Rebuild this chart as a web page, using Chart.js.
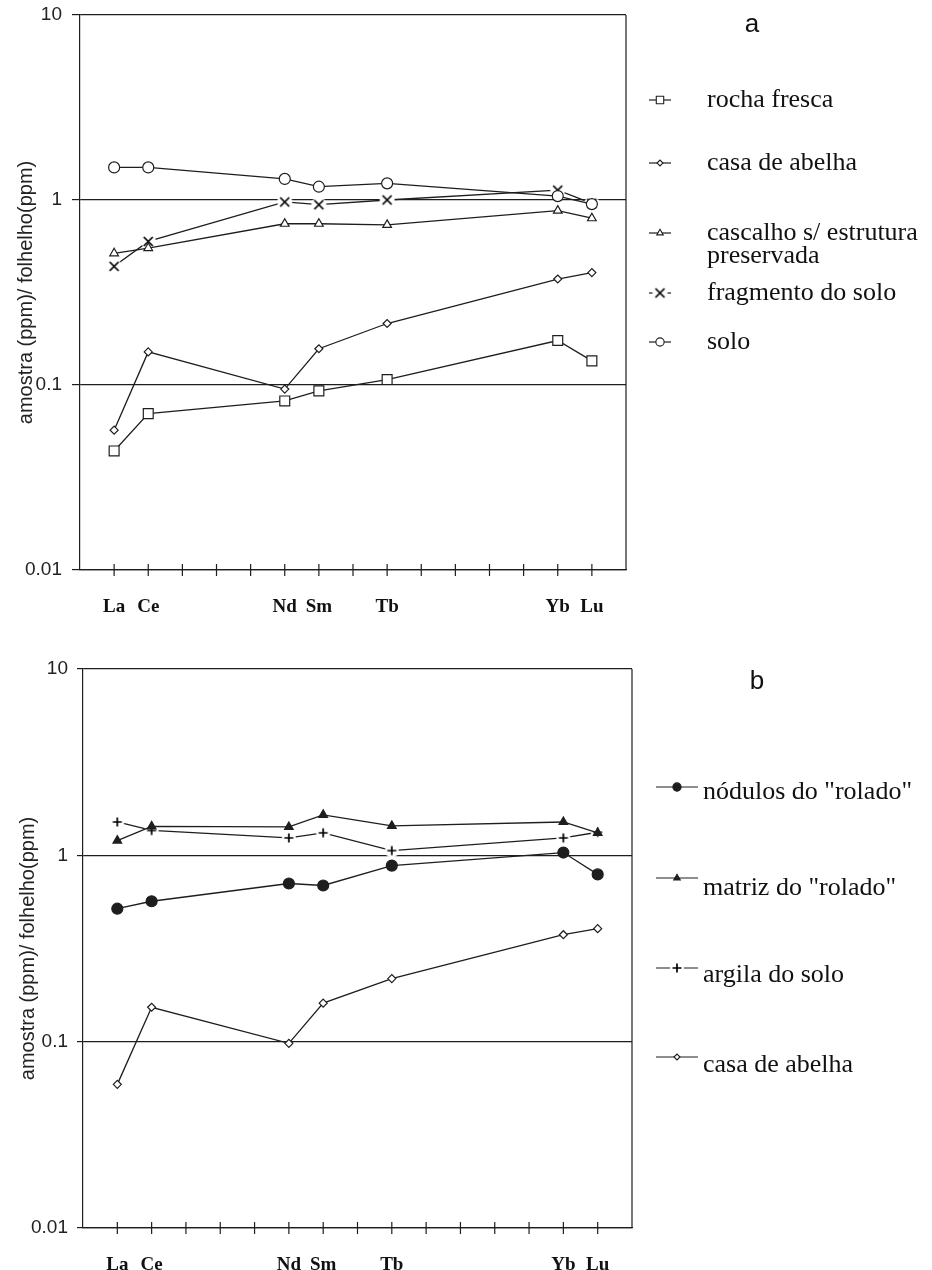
<!DOCTYPE html>
<html>
<head>
<meta charset="utf-8">
<script src="https://cdn.jsdelivr.net/npm/chart.js@4.4.1/dist/chart.umd.min.js"></script>
<style>
  html, body { margin: 0; padding: 0; background: #fff; overflow: hidden; }
  .panel { position: absolute; left: 0; width: 932px; }
</style>
</head>
<body>
<div class="panel" style="top:-10px;height:645px"><canvas id="chartA" width="932" height="645"></canvas></div>
<div class="panel" style="top:635px;height:635px"><canvas id="chartB" width="932" height="635"></canvas></div>
<script>
// x axis positions (blank = unlabelled tick) and the elements that were measured
var elements = ['La', 'Ce', '', '', '', 'Nd', 'Sm', '', 'Tb', '', '', '', '', 'Yb', 'Lu'];
var measured = ['La', 'Ce', 'Nd', 'Sm', 'Tb', 'Yb', 'Lu'];
var yTicks = [0.01, 0.1, 1, 10];
var yTickLabels = ['0.01', '0.1', '1', '10'];
var yTitle = 'amostra (ppm)/ folhelho(ppm)';

// panel a
var namesA = ['rocha fresca', 'casa de abelha', 'cascalho s/ estrutura\npreservada', 'fragmento do solo', 'solo'];
var rochaFresca = [0.044, 0.070, 0.082, 0.093, 0.107, 0.174, 0.135];
var casaAbelhaA = [0.057, 0.151, 0.095, 0.157, 0.215, 0.374, 0.405];
var cascalho    = [0.515, 0.55, 0.744, 0.744, 0.734, 0.876, 0.797];
var fragmento   = [0.438, 0.597, 0.976, 0.943, 1.0, 1.13, 0.96];
var solo        = [1.50, 1.50, 1.30, 1.18, 1.23, 1.05, 0.95];

// panel b
var namesB = ['nódulos do "rolado"', 'matriz do "rolado"', 'argila do solo', 'casa de abelha'];
var nodulos     = [0.517, 0.567, 0.706, 0.689, 0.881, 1.035, 0.79];
var matriz      = [1.20, 1.43, 1.42, 1.65, 1.44, 1.51, 1.32];
var argila      = [1.51, 1.36, 1.24, 1.32, 1.06, 1.24, 1.33];
var casaAbelhaB = [0.059, 0.153, 0.098, 0.161, 0.218, 0.375, 0.404];

var INK = '#1e1e1e';
Chart.defaults.font.family = '"Liberation Sans", Arial, sans-serif';
Chart.defaults.color = INK;

// marker with a white halo so the line breaks around it
function haloMarker(kind, r, halo) {
  var c = document.createElement('canvas');
  var s = Math.ceil(halo * 2) + 2;
  c.width = c.height = s;
  var g = c.getContext('2d'), m = s / 2;
  g.fillStyle = '#fff';
  g.beginPath(); g.arc(m, m, halo, 0, Math.PI * 2); g.fill();
  g.strokeStyle = '#000'; g.lineWidth = 1.7;
  g.beginPath();
  if (kind === 'x') {
    g.moveTo(m - r, m - r); g.lineTo(m + r, m + r);
    g.moveTo(m + r, m - r); g.lineTo(m - r, m + r);
  } else {
    g.moveTo(m - r, m); g.lineTo(m + r, m);
    g.moveTo(m, m - r); g.lineTo(m, m + r);
  }
  g.stroke();
  return c;
}

function toPoints(vals) {
  return measured.map(function (el, i) { return { x: el, y: vals[i] }; });
}

function series(label, vals, style, radius, fill, order) {
  return {
    label: label,
    data: toPoints(vals),
    borderColor: INK,
    borderWidth: 1.3,
    pointStyle: style,
    pointRadius: radius,
    pointBackgroundColor: fill,
    pointBorderColor: INK,
    pointBorderWidth: 1.2,
    order: order || 0,
    tension: 0
  };
}

var decor = {
  id: 'decor',
  afterDraw: function (chart, args, opts) {
    var ctx = chart.ctx, a = chart.chartArea, xs = chart.scales.x;
    ctx.save();
    ctx.strokeStyle = INK; ctx.lineWidth = 1.2;
    ctx.beginPath();
    ctx.moveTo(a.right, a.top); ctx.lineTo(a.right, a.bottom);
    for (var i = 1; i <= elements.length; i++) {
      var px = xs.getPixelForTick(i);
      ctx.moveTo(px, a.bottom - 6); ctx.lineTo(px, a.bottom + 6);
    }
    ctx.stroke();

    ctx.fillStyle = '#111';
    ctx.font = '26px "Liberation Sans", Arial, sans-serif';
    ctx.textAlign = 'center'; ctx.textBaseline = 'middle';
    ctx.fillText(opts.letter, opts.letterX, opts.letterY);

    ctx.textAlign = 'left';
    chart.data.datasets.forEach(function (ds, k) {
      var it = opts.items[k];
      ctx.strokeStyle = INK; ctx.lineWidth = 1.2;
      ctx.beginPath(); ctx.moveTo(opts.x0, it.sy); ctx.lineTo(opts.x1, it.sy); ctx.stroke();
      ctx.fillStyle = ds.pointBackgroundColor;
      ctx.strokeStyle = INK; ctx.lineWidth = 1.1;
      if (Chart.helpers && Chart.helpers.drawPoint) {
        Chart.helpers.drawPoint(ctx, { pointStyle: ds.pointStyle, radius: ds.pointRadius * 0.75, rotation: 0, borderWidth: 1.1 },
          opts.xm, it.sy);
      }
      ctx.fillStyle = '#111';
      ctx.font = '26px "Liberation Serif", "Times New Roman", serif';
      ds.label.split('\n').forEach(function (t, j) { ctx.fillText(t, opts.tx, it.ty + j * 23); });
    });
    ctx.restore();
  }
};

function makeOptions(cfg) {
  return {
    responsive: false,
    animation: false,
    events: [],
    layout: { padding: cfg.padding },
    plugins: {
      legend: { display: false },
      tooltip: { enabled: false },
      decor: cfg.decor
    },
    scales: {
      x: {
        type: 'category',
        labels: [''].concat(elements, ['']),
        grid: { display: false },
        border: { display: true, color: INK, width: 1.2 },
        ticks: {
          autoSkip: false, maxRotation: 0, padding: 18, color: '#111',
          font: { family: '"Liberation Serif", "Times New Roman", serif', size: 19, weight: 'bold' }
        },
        afterFit: function (s) { s.height = 42; }
      },
      y: {
        type: 'logarithmic',
        min: 0.01, max: 10,
        afterBuildTicks: function (s) { s.ticks = yTicks.map(function (v) { return { value: v }; }); },
        grid: { color: INK, lineWidth: 1.2, tickLength: cfg.tickLength },
        border: { display: true, color: INK, width: 1.2 },
        ticks: {
          padding: cfg.tickPad, color: '#222', font: { size: 19 },
          callback: function (v) { return yTickLabels[yTicks.indexOf(v)]; }
        },
        title: { display: true, text: yTitle, color: '#222', font: { size: 20 }, padding: { top: cfg.titlePad, bottom: 0 } },
        afterFit: function (s) { s.width = cfg.yWidth; }
      }
    }
  };
}

new Chart(document.getElementById('chartA'), {
  type: 'line',
  data: {
    datasets: [
      series(namesA[0], rochaFresca, 'rect', 7, '#fff'),
      series(namesA[1], casaAbelhaA, 'rectRot', 4, '#fff'),
      series(namesA[2], cascalho, 'triangle', 5, '#fff'),
      series(namesA[3], fragmento, haloMarker('x', 4.5, 7.5), 5, '#fff', 10),
      series(namesA[4], solo, 'circle', 5.5, '#fff')
    ]
  },
  options: makeOptions({
    padding: { left: 0, top: 25, right: 306, bottom: 23 },
    yWidth: 80, tickLength: 8, tickPad: 10, titlePad: 14,
    decor: {
      letter: 'a', letterX: 752, letterY: 35,
      x0: 649, x1: 671, xm: 660, tx: 707,
      items: [
        { sy: 110, ty: 110 }, { sy: 173, ty: 173 }, { sy: 243, ty: 243 },
        { sy: 303, ty: 303 }, { sy: 352, ty: 352 }
      ]
    }
  }),
  plugins: [decor]
});

new Chart(document.getElementById('chartB'), {
  type: 'line',
  data: {
    datasets: [
      series(namesB[0], nodulos, 'circle', 5.5, INK),
      series(namesB[1], matriz, 'triangle', 5, INK),
      series(namesB[2], argila, haloMarker('+', 4.5, 7), 5, '#fff', 10),
      series(namesB[3], casaAbelhaB, 'rectRot', 4, '#fff')
    ]
  },
  options: makeOptions({
    padding: { left: 0, top: 34, right: 300, bottom: 0 },
    yWidth: 83, tickLength: 6, tickPad: 9, titlePad: 16,
    decor: {
      letter: 'b', letterX: 757, letterY: 47,
      x0: 656, x1: 698, xm: 677, tx: 703,
      items: [
        { sy: 152, ty: 157 }, { sy: 243, ty: 253 }, { sy: 333, ty: 340 }, { sy: 422, ty: 430 }
      ]
    }
  }),
  plugins: [decor]
});
</script>
</body>
</html>
